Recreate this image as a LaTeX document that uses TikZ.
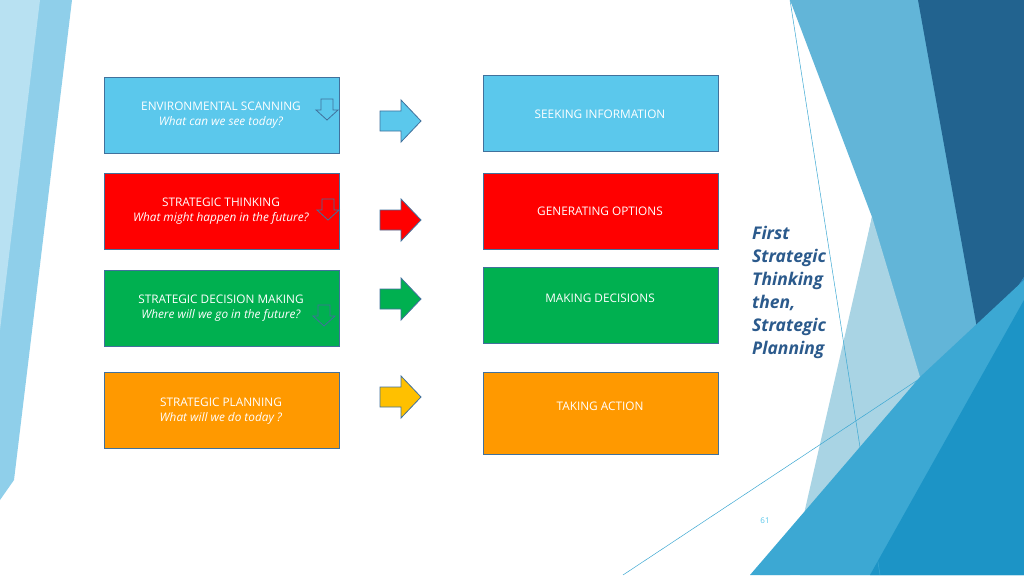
\documentclass[tikz,border=0pt]{standalone}
\usepackage{fontspec}
\setmainfont{Open Sans}
\begin{document}
\begin{tikzpicture}[x=1pt,y=-1pt,
 box/.style={draw=bordc,line width=0.8pt,minimum width=235pt,minimum height=76pt,anchor=north west,inner sep=0pt},
 lab/.style={text=white,font=\fontsize{11.8}{14.5}\selectfont,align=center},
 bigarrow/.style={draw=bordc,line width=0.8pt},
 small/.style={draw=bordc,line width=0.8pt,fill=none}]
\definecolor{bordc}{HTML}{41719C}
\definecolor{cblue}{HTML}{5BC8EC}
\definecolor{cred}{HTML}{FF0000}
\definecolor{cgreen}{HTML}{00B050}
\definecolor{corange}{HTML}{FF9900}
\definecolor{cyel}{HTML}{FFC000}
\definecolor{navy}{HTML}{22638F}
\definecolor{titlec}{HTML}{2B5A8C}
\definecolor{bg1}{HTML}{62B5D8}
\definecolor{bg3}{HTML}{A9D4E4}
\definecolor{bg4}{HTML}{3CA8D3}
\definecolor{bg5}{HTML}{1C94C6}
\definecolor{bg6}{HTML}{2A86BC}
\definecolor{lft1}{HTML}{8FCFEA}
\definecolor{lft2}{HTML}{B8E1F2}
\useasboundingbox (0,0) rectangle (1024,575);
\fill[white] (0,0) rectangle (1024,575);
% background
\fill[lft1] (0,0) -- (72,0) -- (14,480) -- (0,500) -- cycle;
\fill[lft2] (0,0) -- (40,0) -- (0,330) -- cycle;
\fill[bg1] (790,0) -- (1024,0) -- (1024,575) -- (800,575) -- (872,217) -- cycle;
\fill[bg3] (872,217) -- (920,377) -- (760,575) -- (790,575) -- cycle;
\fill[navy] (918,0) -- (1024,0) -- (1024,277) -- (980,345) -- cycle;
\fill[bg6] (980,345) -- (1024,277) -- (1024,300) -- (995,440) -- cycle;
\fill[bg4] (750,575) -- (920,377) -- (1024,280) -- (1024,575) -- cycle;
\fill[bg5] (870,575) -- (1024,300) -- (1024,575) -- cycle;
\draw[bg4,line width=0.5pt] (790,0) -- (880,575);
\draw[bg4,line width=0.5pt] (623,575) -- (960,352);
% boxes
\node[box,fill=cblue] (l1) at (104,77) {};
\node[box,fill=cred] (l2) at (104,173) {};
\node[box,fill=cgreen] (l3) at (104,270) {};
\node[box,fill=corange] (l4) at (104,372) {};
\node[box,fill=cblue] (r1) at (483,75) {};
\node[box,fill=cred] (r2) at (483,173) {};
\node[box,fill=cgreen] (r3) at (483,267) {};
\node[box,fill=corange,minimum height=82pt] (r4) at (483,372) {};
\node[lab] (t1) at (221,115) {ENVIRONMENTAL SCANNING\\\textit{What can we see today?}};
\node[lab] (t2) at (221,211) {STRATEGIC THINKING\\\textit{What might happen in the future?}};
\node[lab] (t3) at (221,308) {STRATEGIC DECISION MAKING\\\textit{Where will we go in the future?}};
\node[lab] (t4) at (221,411) {STRATEGIC PLANNING\\\textit{What will we do today ?}};
\node[lab] (u1) at (600,114) {SEEKING INFORMATION};
\node[lab] (u2) at (600,211) {GENERATING OPTIONS};
\node[lab] (u3) at (600,298) {MAKING DECISIONS};
\node[lab] (u4) at (600,406) {TAKING ACTION};
% big arrows
\foreach \y/\c/\n in {121/cblue/a1,220/cred/a2,299/cgreen/a3,397/cyel/a4}{
 \draw[bigarrow,fill=\c] (380,\y-10) -- (401,\y-10) -- (401,\y-21) -- (421,\y) -- (401,\y+21) -- (401,\y+10) -- (380,\y+10) -- cycle;
}
% small down arrows
\foreach \x/\y in {316/99,317/199,313/305}{
 \draw[small] (\x+5,\y) -- (\x+17,\y) -- (\x+17,\y+11) -- (\x+22,\y+11) -- (\x+11,\y+21) -- (\x,\y+11) -- (\x+5,\y+11) -- cycle;
}
\node[anchor=north west,text=titlec,font=\fontsize{17.5}{23}\selectfont\bfseries\itshape,align=left,inner sep=0pt] (title) at (752,226) {First\\Strategic\\Thinking\\then,\\Strategic\\Planning};
\node[text=cblue,font=\fontsize{8}{9}\selectfont] (pg) at (765,521) {61};
\end{tikzpicture}
\end{document}
